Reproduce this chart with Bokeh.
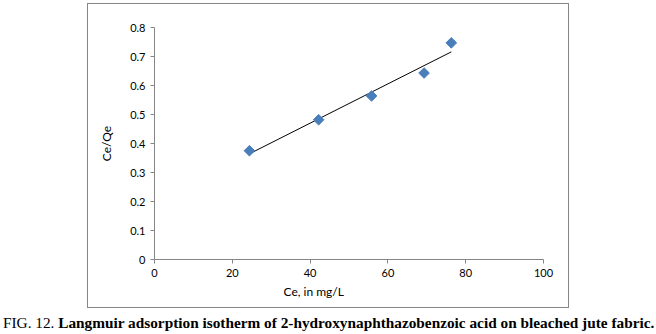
import numpy as np
from bokeh.plotting import figure
from bokeh.models import Range1d, FixedTicker, Title, Div
from bokeh.layouts import column
from bokeh.embed import file_html
from bokeh.resources import INLINE

# data
ce = [24.4, 42.2, 55.8, 69.3, 76.3]
ce_qe = [0.375, 0.482, 0.564, 0.643, 0.747]
x_ticks = [0, 20, 40, 60, 80, 100]
y_ticks = [0, 0.1, 0.2, 0.3, 0.4, 0.5, 0.6, 0.7, 0.8]
x_title = "Ce, in mg/L"
y_title = "Ce/Qe"
caption_a = "FIG. 12."
caption_b = "Langmuir adsorption isotherm of 2-hydroxynaphthazobenzoic acid on bleached jute fabric."

AX = "#868686"
TXT = "black"
FONT = "Lato"

# chart-area border (drawn as an empty framed box behind the plot)
box = Div(text="", width=482, height=305, margin=(3, 0, 0, 87),
          styles={"border": "1px solid #868686", "box-sizing": "border-box",
                  "background-color": "white"})

p = figure(width=480, height=303, output_backend="svg", toolbar_location=None,
           x_range=Range1d(0, 100), y_range=Range1d(0, 0.8),
           min_border_left=66, min_border_right=25, min_border_top=23, min_border_bottom=48,
           margin=(-304, 0, 0, 88))
p.outline_line_color = None
p.grid.visible = False
p.background_fill_color = "white"
p.border_fill_color = "white"

for ax in (p.xaxis[0], p.yaxis[0]):
    ax.axis_line_color = AX
    ax.major_tick_line_color = AX
    ax.minor_tick_line_color = None
    ax.major_tick_out = 4
    ax.major_tick_in = 0
    ax.major_label_text_font = FONT
    ax.major_label_text_font_size = "11px"
    ax.major_label_text_color = TXT
    ax.major_label_standoff = 5
p.xaxis[0].ticker = FixedTicker(ticks=x_ticks)
p.yaxis[0].ticker = FixedTicker(ticks=y_ticks)
p.xaxis[0].major_label_overrides = {t: str(t) for t in x_ticks}
p.yaxis[0].major_label_overrides = {t: ("0" if t == 0 else f"{t:.1f}") for t in y_ticks}

p.yaxis[0].axis_label = y_title
p.yaxis[0].axis_label_text_font = FONT
p.yaxis[0].axis_label_text_font_size = "12px"
p.yaxis[0].axis_label_text_font_style = "normal"
p.yaxis[0].axis_label_text_color = TXT
p.yaxis[0].axis_label_standoff = 13

p.add_layout(Title(text=x_title, align="left", offset=129, text_font=FONT,
                   text_font_size="12px", text_font_style="normal", text_color=TXT,
                   standoff=4), "below")

# trend line (least squares fit of the data)
k, b = np.polyfit(ce, ce_qe, 1)
xl = [min(ce), max(ce)]
p.line(xl, [k * v + b for v in xl], line_color="black", line_width=1)

p.scatter(ce, ce_qe, marker="square", angle=np.pi / 4, size=7.5,
          fill_color="#4A7EBB", line_color="#4A7EBB")

cap = Div(text=f"{caption_a} <b>{caption_b}</b>", width=653, margin=(7, 0, 0, 3),
          styles={"font-family": "'Liberation Serif', serif", "font-size": "15.3px",
                  "color": "black", "white-space": "nowrap", "line-height": "18px"})

layout = column(box, p, cap, spacing=0)
open("out.html", "w").write(file_html(layout, INLINE))
